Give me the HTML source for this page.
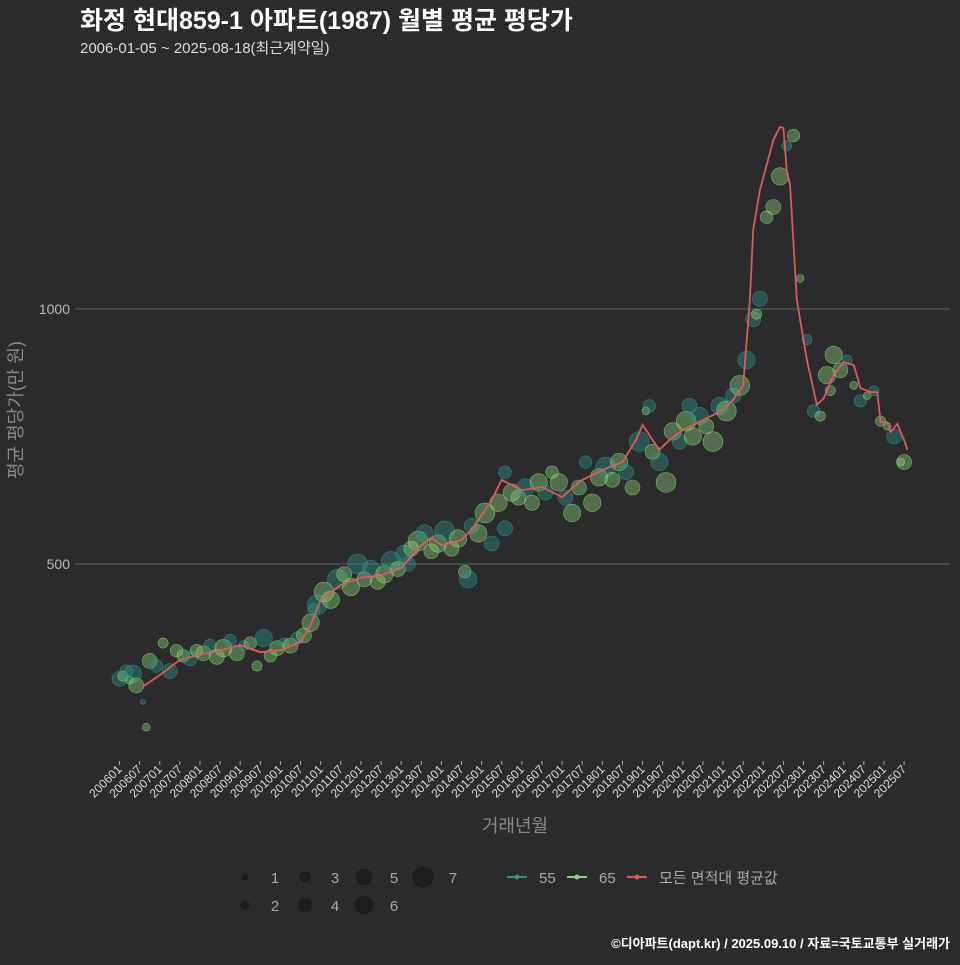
<!DOCTYPE html>
<html><head><meta charset="utf-8">
<style>
html,body{margin:0;padding:0;background:#2b2a2c;}
body{width:960px;height:960px;overflow:hidden;font-family:"Liberation Sans","Noto Sans CJK KR",sans-serif;}
</style></head>
<body>
<svg id="chart" width="960" height="960" viewBox="0 0 960 960" xmlns="http://www.w3.org/2000/svg" font-family="Liberation Sans, Noto Sans CJK KR, sans-serif">
<rect x="0" y="0" width="960" height="960" fill="#2b2a2c"/>
<text x="80" y="29" font-size="25" font-weight="bold" fill="#ffffff">화정 현대859-1 아파트(1987) 월별 평균 평당가</text>
<text x="80" y="53" font-size="15" fill="#dddddd">2006-01-05 ~ 2025-08-18(최근계약일)</text>
<g id="grid"></g>
<g id="yaxis"></g>
<g id="xaxis"></g>
<g id="bubbles"></g>
<g id="avgline"></g>
<text x="0" y="0" transform="translate(22,410) rotate(-90)" text-anchor="middle" font-size="18" fill="#8a8a8a">평균 평당가(만 원)</text>
<text x="515" y="832" text-anchor="middle" font-size="18" fill="#8a8a8a">거래년월</text>
<g id="legend"></g>
<text x="950" y="948" text-anchor="end" font-size="13" font-weight="bold" fill="#ffffff">©디아파트(dapt.kr) / 2025.09.10 / 자료=국토교통부 실거래가</text>
</svg>
<script>
const yTicks=[500,1000];
const xTickLabels=[];
for(let y=2006;y<=2025;y++){xTickLabels.push(y+"01");xTickLabels.push(y+"07");}
const avgMonths=["200608","200701","200707","200801","200807","200901","200907","201001","201007","201010","201101","201107","201201","201207","201301","201307","201310","201401","201407","201410","201501","201504","201507","201510","201601","201607","201701","201704","201707","201801","201807","201811","201901","201904","201906","201909","202001","202007","202101","202104","202107","202109","202110","202112","202202","202204","202206","202207","202208","202209","202211","202212","202302","202305","202307","202310","202401","202404","202406","202409","202411","202412","202502","202503","202505","202507","202508"];
const avgValues=[260,282,312,322,331,341,327,331,347,380,429,459,473,478,492,537,551,537,547,567,596,625,665,655,645,651,631,649,665,684,700,743,773,743,724,743,763,782,802,822,851,1018,1155,1233,1282,1331,1357,1355,1272,1243,1018,978,900,812,825,871,896,890,845,837,837,778,778,759,775,743,724];
const bubbleMonths=["200601","200602","200603","200604","200605","200606","200608","200610","200612","200702","200704","200706","200708","200710","200712","200802","200804","200806","200808","200810","200812","200902","200904","200906","200908","200910","200912","201002","201004","201006","201008","201010","201012","201102","201104","201106","201108","201110","201112","201202","201204","201206","201208","201210","201212","201302","201304","201306","201308","201310","201312","201402","201404","201406","201408","201410","201412","201502","201504","201506","201508","201510","201512","201602","201604","201606","201608","201610","201612","201702","201704","201706","201708","201710","201712","201802","201804","201806","201808","201810","201812","201902","201904","201906","201908","201910","201912","202002","202004","202006","202008","202010","202012","202102","202104","202106","202108","202110","202112","202202","202204","202206","202208","202210","202212","202302","202304","202306","202308","202310","202312","202402","202404","202406","202408","202410","202412","202502","202504","202506","202507","200609","201011","201303","201409","201508","201903","202003","202111","202309"];
const bubbleValues=[275,280,290,272,285,262,230,310,300,345,290,330,320,315,330,325,340,318,335,350,325,340,345,300,355,320,335,345,340,355,360,385,420,445,430,470,480,455,500,470,490,465,480,505,490,520,530,545,560,525,540,565,530,550,485,575,560,600,540,620,680,640,630,650,620,660,640,680,660,630,600,650,700,620,670,690,665,700,680,650,740,800,720,700,660,760,740,780,750,790,770,740,810,800,830,850,900,980,1020,1180,1200,1260,1320,1340,1060,940,800,790,870,910,880,900,850,820,830,840,780,770,750,700,700,180,410,500,470,570,810,810,990,840];
const bubbleSizes=[5,3,4,2,6,5,1,5,4,3,5,4,4,5,4,5,4,5,6,4,5,3,4,3,6,4,5,3,5,4,5,6,7,7,6,7,5,6,7,5,6,5,6,7,5,6,5,7,6,5,6,7,5,6,4,5,6,7,5,6,4,6,5,6,5,6,5,4,6,5,6,5,4,6,6,7,5,6,5,5,7,2,5,6,7,6,5,7,6,6,5,7,6,7,5,7,6,5,5,4,5,6,3,4,2,3,4,3,6,6,5,3,2,4,2,3,3,2,5,2,5,2,4,5,6,5,4,5,3];
const bubbleTypes=["55","65","55","65","55","65","55","65","55","65","55","65","65","55","65","65","55","65","65","55","65","55","65","65","55","65","65","55","65","55","65","65","55","65","65","55","65","65","55","65","55","65","65","55","65","55","65","65","55","65","65","55","65","65","65","55","65","65","55","65","55","65","65","55","65","65","55","65","65","55","65","65","55","65","65","55","65","65","55","65","55","65","65","55","65","65","55","65","65","55","65","65","55","65","55","65","55","55","55","65","65","65","55","65","65","55","55","65","65","65","65","55","65","55","65","55","65","65","55","65","65","65","55","55","55","55","55","55","65"];
const NS="http://www.w3.org/2000/svg";
function mIndex(s){return (parseInt(s.slice(0,4))-2006)*12+parseInt(s.slice(4,6))-1;}
function xScale(s){return 119.5+mIndex(s)*3.353;}
function yScale(v){return 309+(1000-v)*0.51;}
function mk(tag,attrs,parent){const e=document.createElementNS(NS,tag);for(const k in attrs)e.setAttribute(k,attrs[k]);parent.appendChild(e);return e;}
function rScale(s){return 1.5+s*1.2;}
const grid=document.getElementById('grid'),yax=document.getElementById('yaxis'),xax=document.getElementById('xaxis');
yTicks.forEach(t=>{
  const l=mk('line',{x1:75,x2:950,y1:yScale(t),y2:yScale(t),stroke:'#5a5a5a','stroke-width':1.2},grid);
  
  
  const tx=mk('text',{x:70,y:yScale(t)+5,'text-anchor':'end','font-size':14,fill:'#bbbbbb'},yax);
  tx.textContent=t;
  
  
});
xTickLabels.forEach(s=>{
  if(mIndex(s)>mIndex("202507"))return;
  const x=xScale(s);
  const tk=mk('line',{x1:x,x2:x,y1:761,y2:765,stroke:'#aaaaaa','stroke-width':1},xax);
  
  
  const tx=mk('text',{x:x+3,y:770,'text-anchor':'end','font-size':12,fill:'#dddddd',transform:'rotate(-45 '+(x+3)+' 770)'},xax);
  tx.textContent=s;
  
  
});
const bg=document.getElementById('bubbles');
const colors={"55":["rgba(45,150,140,0.4)","rgba(45,150,140,0.75)"],"65":["rgba(140,215,120,0.4)","rgba(140,215,120,0.75)"]};
bubbleMonths.forEach((m,i)=>{
  const tp=bubbleTypes[i]||"65";
  const c=colors[tp];
  const v=bubbleValues[i]!==undefined?bubbleValues[i]:500;
  const el=mk('circle',{cx:xScale(m),cy:yScale(v),r:rScale(bubbleSizes[i]||3),fill:c[0],stroke:c[1],'stroke-width':0.6},bg);
  
  
});
const al=document.getElementById('avgline');
const d=avgMonths.map((m,i)=>(i?'L':'M')+xScale(m).toFixed(1)+','+yScale(avgValues[i]).toFixed(1)).join(' ');
const p=mk('path',{d:d,fill:'none',stroke:'#e05a5a','stroke-width':1.8},al);


const lg=document.getElementById('legend');
const sizeLegend=[[1,245,877],[2,245,905],[3,305,877],[4,305,905],[5,364,877],[6,364,905],[7,423,877]];
sizeLegend.forEach(s=>{
  const c=mk('circle',{cx:s[1],cy:s[2],r:rScale(s[0]),fill:'#1e1d1f',stroke:'#1a1a1a'},lg);
  
  
  const t=mk('text',{x:s[1]+30,y:s[2]+6,'text-anchor':'middle','font-size':15,fill:'#aaaaaa'},lg);
  t.textContent=s[0];
  
  
});
const lineLegend=[["55","#2d968c",467],["65","#8cd778",527],["모든 면적대 평균값","#e05a5a",587]];
lineLegend.forEach(l=>{
  const x=l[2]+40;
  const ln=mk('line',{x1:x,x2:x+20,y1:877,y2:877,stroke:l[1],'stroke-width':2},lg);
  
  
  const c=mk('circle',{cx:x+10,cy:877,r:2.5,fill:l[1]},lg);
  
  
  const t=mk('text',{x:x+32,y:883,'font-size':15,fill:'#aaaaaa'},lg);
  t.textContent=l[0];
  
  
});
</script>
</body></html>
